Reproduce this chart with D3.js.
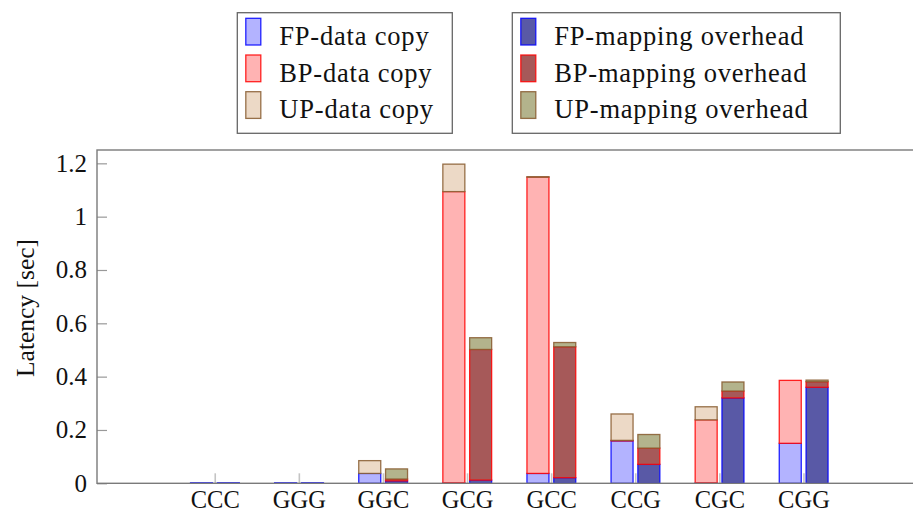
<!DOCTYPE html>
<html>
<head>
<meta charset="utf-8">
<script src="https://cdn.jsdelivr.net/npm/d3@7"></script>
<style>
  html, body { margin: 0; padding: 0; background: #fff; }
  svg { display: block; }
  text { font-family: "Liberation Serif", "DejaVu Serif", serif; fill: #111; }
</style>
</head>
<body>
<svg id="chart" width="913" height="514"></svg>
<script>
// ---- data ----
const categories = ["CCC", "GGG", "GGC", "GCG", "GCC", "CCG", "CGC", "CGG"];
const fpCopy = [0.002, 0.002, 0.037, 0.002, 0.037, 0.159, 0.002, 0.150];
const bpCopy = [0, 0, 0, 1.092, 1.111, 0.002, 0.236, 0.236];
const upCopy = [0, 0, 0.048, 0.103, 0.002, 0.099, 0.049, 0];
const fpMap = [0.002, 0.002, 0.009, 0.012, 0.021, 0.071, 0.320, 0.360];
const bpMap = [0, 0, 0.007, 0.490, 0.491, 0.061, 0.026, 0.021];
const upMap = [0, 0, 0.038, 0.044, 0.016, 0.051, 0.034, 0.006];
const yTicks = [0, 0.2, 0.4, 0.6, 0.8, 1, 1.2];
const yLabel = "Latency [sec]";
const legendLeft = ["FP-data copy", "BP-data copy", "UP-data copy"];
const legendRight = ["FP-mapping overhead", "BP-mapping overhead", "UP-mapping overhead"];

// ---- styles ----
const copyStyles = [
  { fill: "#b3b3ff", stroke: "#0000ff" },
  { fill: "#ffb3b3", stroke: "#ff0000" },
  { fill: "#ecd9c6", stroke: "#86592d" }
];
const mapStyles = [
  { fill: "#5959a6", stroke: "#0000ff" },
  { fill: "#a65959", stroke: "#ff0000" },
  { fill: "#b3b38c", stroke: "#86592d" }
];

const svg = d3.select("#chart");
const pLeft = 97, pRight = 921.2, pTop = 150, pBottom = 483.3;

const x = d3.scaleLinear().domain([-1.4, 8.4]).range([pLeft, pRight]);
const y = d3.scaleLinear().domain([0, 1.25]).range([pBottom, pTop]);

const barW = 22, offL = -13.2, offR = 13.6;

// x ticks (light gray, inside)
const xAxis = d3.axisBottom(x)
  .tickValues(d3.range(categories.length))
  .tickFormat(i => categories[i])
  .tickSizeInner(-10).tickSizeOuter(0).tickPadding(14);
const gx = svg.append("g").attr("transform", `translate(0,${pBottom})`).call(xAxis);
gx.select(".domain").remove();
gx.selectAll(".tick line").attr("stroke", "#c4c4c4").attr("stroke-width", 1.6);
gx.selectAll(".tick text").attr("font-size", 24.5).attr("font-family", "Liberation Serif")
  .attr("fill", "#111").attr("dy", null).attr("y", 25);

// bars
function drawStack(series, styles, off) {
  categories.forEach((c, i) => {
    let base = 0;
    series.forEach((vals, k) => {
      const v = vals[i];
      if (v > 0) {
        svg.append("rect")
          .attr("x", x(i) + off - barW / 2)
          .attr("y", y(base + v))
          .attr("width", barW)
          .attr("height", Math.max(0.01, y(base) - y(base + v)))
          .attr("fill", styles[k].fill)
          .attr("stroke", styles[k].stroke)
          .attr("stroke-width", 1.3)
          .attr("stroke-opacity", 0.85);
      }
      base += v;
    });
  });
}
drawStack([fpCopy, bpCopy, upCopy], copyStyles, offL);
drawStack([fpMap, bpMap, upMap], mapStyles, offR);

// y axis
const yAxis = d3.axisLeft(y).tickValues(yTicks).tickFormat(d => d3.format("~g")(d))
  .tickSizeInner(-10).tickSizeOuter(0).tickPadding(10);
const gy = svg.append("g").attr("transform", `translate(${pLeft},0)`).call(yAxis);
gy.select(".domain").remove();
gy.selectAll(".tick line").attr("stroke", "#999").attr("stroke-width", 1.2);
gy.selectAll(".tick text").attr("font-size", 25).attr("font-family", "Liberation Serif").attr("fill", "#111");

// frame
svg.append("rect")
  .attr("x", pLeft).attr("y", pTop)
  .attr("width", pRight - pLeft).attr("height", pBottom - pTop)
  .attr("fill", "none").attr("stroke", "#7a7a7a").attr("stroke-width", 1.4);

// y label
svg.append("text")
  .attr("transform", `translate(33.5,308) rotate(-90)`)
  .attr("text-anchor", "middle")
  .attr("font-size", 25.5)
  .text(yLabel);

// legends
function legend(x0, w, labels, styles) {
  const g = svg.append("g");
  g.append("rect").attr("x", x0).attr("y", 12.7).attr("width", w).attr("height", 120.6)
    .attr("fill", "#fff").attr("stroke", "#666").attr("stroke-width", 1.3);
  labels.forEach((lab, k) => {
    const ty = 18.3 + k * 36.7;
    g.append("rect").attr("x", x0 + 8.5).attr("y", ty).attr("width", 15).attr("height", 26.7)
      .attr("fill", styles[k].fill).attr("stroke", styles[k].stroke).attr("stroke-width", 1.3)
      .attr("stroke-opacity", 0.85);
    g.append("text").attr("x", x0 + 42).attr("y", ty + 26.7)
      .attr("font-size", 26.5).attr("letter-spacing", "0.8px").text(lab);
  });
}
legend(237.3, 215, legendLeft, copyStyles);
legend(512.3, 328, legendRight, mapStyles);
</script>
</body>
</html>
